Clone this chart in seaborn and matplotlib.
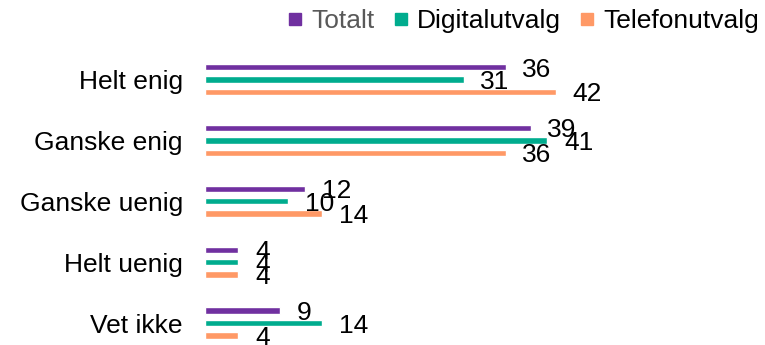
import matplotlib
matplotlib.use("Agg")
import matplotlib.pyplot as plt
from matplotlib.lines import Line2D
import seaborn as sns
import pandas as pd

# Survey answers per group (percent)
categories = ["Helt enig", "Ganske enig", "Ganske uenig", "Helt uenig", "Vet ikke"]
series = ["Totalt", "Digitalutvalg", "Telefonutvalg"]
totalt = [36, 39, 12, 4, 9]
digital = [31, 41, 10, 4, 14]
telefon = [42, 36, 14, 4, 4]
colors = ["#7030A0", "#00AC8E", "#FF9966"]

sns.set_theme(style="white")
plt.rcParams["font.family"] = ["Liberation Sans", "DejaVu Sans"]

df = pd.DataFrame({
    "kategori": categories * 3,
    "serie": [s for s in series for _ in categories],
    "verdi": totalt + digital + telefon,
})

W, H = 765, 345
fig = plt.figure(figsize=(W / 100, H / 100), dpi=100)
ax = fig.add_axes([205 / W, 0, 551 / W, (H - 49) / H])

sns.barplot(
    data=df, y="kategori", x="verdi", hue="serie",
    order=categories, hue_order=series, palette=colors,
    orient="y", width=0.61, gap=0.48, saturation=1,
    errorbar=None, legend=False, ax=ax,
)

for cont in ax.containers:
    texts = ax.bar_label(cont, fmt="%d", padding=12, fontsize=19, color="black")
    for t in texts:
        t.set_va("center_baseline")

ax.set_xlim(0, 66)
ax.set_ylim(4.36, -0.5)
ax.set_xticks([])
ax.set_xlabel("")
ax.set_ylabel("")
ax.tick_params(axis="y", length=0, pad=16, labelsize=19, labelcolor="black")
for sp in ax.spines.values():
    sp.set_visible(False)

handles = [Line2D([], [], marker="s", linestyle="none", markersize=9,
                  color=c) for c in colors]
leg = fig.legend(
    handles, series, loc="center right",
    bbox_to_anchor=(759 / W, 1 - 21 / H), ncol=3, frameon=False,
    fontsize=19, handlelength=0.45, handletextpad=0.4, columnspacing=0.75,
    borderpad=0, borderaxespad=0,
)
leg.get_texts()[0].set_color("#595959")
for t in leg.get_texts()[1:]:
    t.set_color("black")

fig.savefig("out.png", dpi=100)
